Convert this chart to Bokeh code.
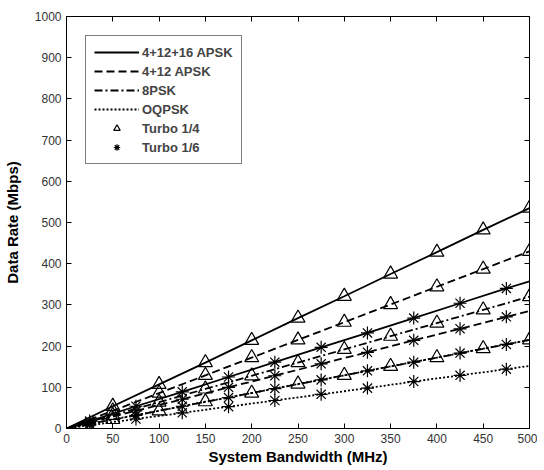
from bokeh.plotting import figure
from bokeh.models import LinearAxis, FixedTicker, Legend, LegendItem, Range1d
from bokeh.embed import file_html
from bokeh.resources import INLINE

# Turbo 1/4 series (triangles)
bw_t = [0, 50, 100, 150, 200, 250, 300, 350, 400, 450, 500]
apsk32_t = [0, 54, 107, 160, 214, 268, 321, 375, 428, 482, 535]
apsk16_t = [0, 43, 86, 129, 172, 215, 258, 301, 344, 387, 430]
psk8_t = [0, 32, 64, 96, 128, 160, 192, 224, 256, 288, 320]
oqpsk_t = [0, 22, 43, 65, 86, 108, 129, 151, 172, 194, 215]

# Turbo 1/6 series (asterisks)
bw_s = [0, 25, 75, 125, 175, 225, 275, 325, 375, 425, 475, 500]
apsk32_s = [0, 18, 54, 89, 125, 161, 197, 232, 268, 304, 340, 357]
apsk16_s = [0, 14, 43, 71, 100, 128, 157, 185, 214, 242, 271, 285]
psk8_s = [0, 11, 32, 54, 75, 97, 118, 140, 161, 183, 204, 215]
oqpsk_s = [0, 8, 23, 38, 53, 68, 83, 98, 114, 129, 144, 152]

x_ticks = [0, 50, 100, 150, 200, 250, 300, 350, 400, 450, 500]
y_ticks = [0, 100, 200, 300, 400, 500, 600, 700, 800, 900, 1000]

mod_names = ["4+12+16 APSK", "4+12 APSK", "8PSK", "OQPSK"]
dashes = ["solid", "8 4", "8 3 2 3", "2 2"]
series_t = [apsk32_t, apsk16_t, psk8_t, oqpsk_t]
series_s = [apsk32_s, apsk16_s, psk8_s, oqpsk_s]

FONT = "Liberation Sans"

p = figure(frame_width=463, frame_height=412, output_backend="svg",
           toolbar_location=None, x_range=Range1d(0, 500), y_range=Range1d(0, 1000),
           min_border_left=59, min_border_right=8, min_border_top=16, min_border_bottom=40)
p.background_fill_color = "white"
p.border_fill_color = "white"
p.grid.visible = False
p.outline_line_color = "black"
p.outline_line_width = 1

line_renderers = []
tri_r = None
star_r = None
for name, dash, yt, ys in zip(mod_names, dashes, series_t, series_s):
    lr = p.line(bw_t, yt, line_color="black", line_width=1.8, line_dash=dash)
    p.line(bw_s, ys, line_color="black", line_width=1.8, line_dash=dash)
    line_renderers.append(lr)
    tri_r = p.scatter(bw_t[1:], yt[1:], marker="triangle", size=14, line_color="black",
                      fill_alpha=0, line_width=1.2)
    star_r = p.scatter(bw_s[1:-1], ys[1:-1], marker="asterisk", size=13, line_color="black",
                       line_width=1.2)

for ax in (p.xaxis[0], p.yaxis[0]):
    ax.major_tick_in = 5
    ax.major_tick_out = 0
    ax.minor_tick_line_color = None
    ax.axis_line_color = "black"
    ax.major_tick_line_color = "black"
    ax.major_label_text_font = FONT
    ax.major_label_text_font_size = "12px"
    ax.major_label_text_color = "#333333"
    ax.axis_label_text_font = FONT
    ax.axis_label_text_font_size = "15px"
    ax.axis_label_text_font_style = "bold"
    ax.axis_label_text_color = "black"
p.xaxis[0].ticker = FixedTicker(ticks=x_ticks)
p.yaxis[0].ticker = FixedTicker(ticks=y_ticks)
p.xaxis[0].axis_label = "System Bandwidth (MHz)"
p.yaxis[0].axis_label = "Data Rate (Mbps)"
p.xaxis[0].axis_label_standoff = 2
p.yaxis[0].axis_label_standoff = 11

for loc, ticks in (("right", y_ticks), ("above", x_ticks)):
    ax = LinearAxis(ticker=FixedTicker(ticks=ticks), major_label_text_font_size="1px",
                    major_label_text_color=None,
                    axis_line_color=None, major_tick_in=5, major_tick_out=0,
                    minor_tick_line_color=None, major_label_standoff=0,
                    major_tick_line_color="black")
    p.add_layout(ax, loc)

items = [LegendItem(label=n, renderers=[r]) for n, r in zip(mod_names, line_renderers)]
items.append(LegendItem(label="Turbo 1/4", renderers=[tri_r]))
items.append(LegendItem(label="Turbo 1/6", renderers=[star_r]))
legend = Legend(items=items, location="top_left", margin=19, padding=8, spacing=3,
                glyph_width=45, glyph_height=16, label_height=16, label_standoff=3,
                label_text_font=FONT, label_text_font_size="13px", label_text_font_style="bold",
                border_line_color="black", border_line_width=1, background_fill_alpha=1)
p.add_layout(legend, "center")

open("out.html", "w").write(file_html(p, INLINE))
